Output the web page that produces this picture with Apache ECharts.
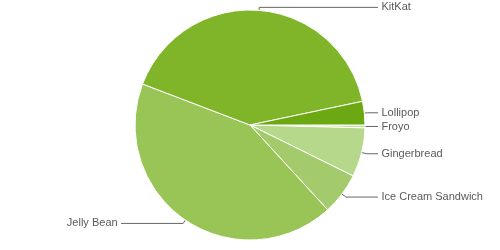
<!DOCTYPE html>
<html>
<head>
<meta charset="utf-8">
<script src="https://cdn.jsdelivr.net/npm/echarts@6/dist/echarts.min.js"></script>
<style>
html,body{margin:0;padding:0;background:#fff;}
#chart{width:500px;height:250px;}
</style>
</head>
<body>
<div id="chart"></div>
<script>
var categories = ['Froyo', 'Gingerbread', 'Ice Cream Sandwich', 'Jelly Bean', 'KitKat', 'Lollipop'];
var values = [0.4, 6.9, 5.9, 42.6, 40.9, 3.3];
var colors = ['#C2DE9A', '#B5D88A', '#A3CB6C', '#98C555', '#80B529', '#6BA811'];
var lineLengths = [3, 5, 5, 4, 3, 3];

var data = categories.map(function (c, i) {
  var item = { name: c, value: values[i], itemStyle: { color: colors[i] },
               labelLine: { length: lineLengths[i] } };
  if (c === 'Jelly Bean') item.labelLine.length2 = 62;
  return item;
});

var chart = echarts.init(document.getElementById('chart'), null, { renderer: 'canvas' });
chart.setOption({
  animation: false,
  series: [{
    type: 'pie',
    center: [250, 125],
    radius: 115,
    startAngle: 0,
    clockwise: true,
    data: data,
    itemStyle: { borderColor: '#fff', borderWidth: 1 },
    label: {
      show: true,
      position: 'outer',
      alignTo: 'labelLine',
      distanceToLabelLine: 3.5,
      padding: [3, 0, 0, 0],
      color: '#5a5a5a',
      fontFamily: 'Liberation Sans, Arial, sans-serif',
      fontSize: 11
    },
    labelLine: {
      show: true,
      length: 3,
      length2: 10,
      smooth: false,
      lineStyle: { color: '#666', width: 1 }
    },
    avoidLabelOverlap: true
  }]
});
</script>
</body>
</html>
